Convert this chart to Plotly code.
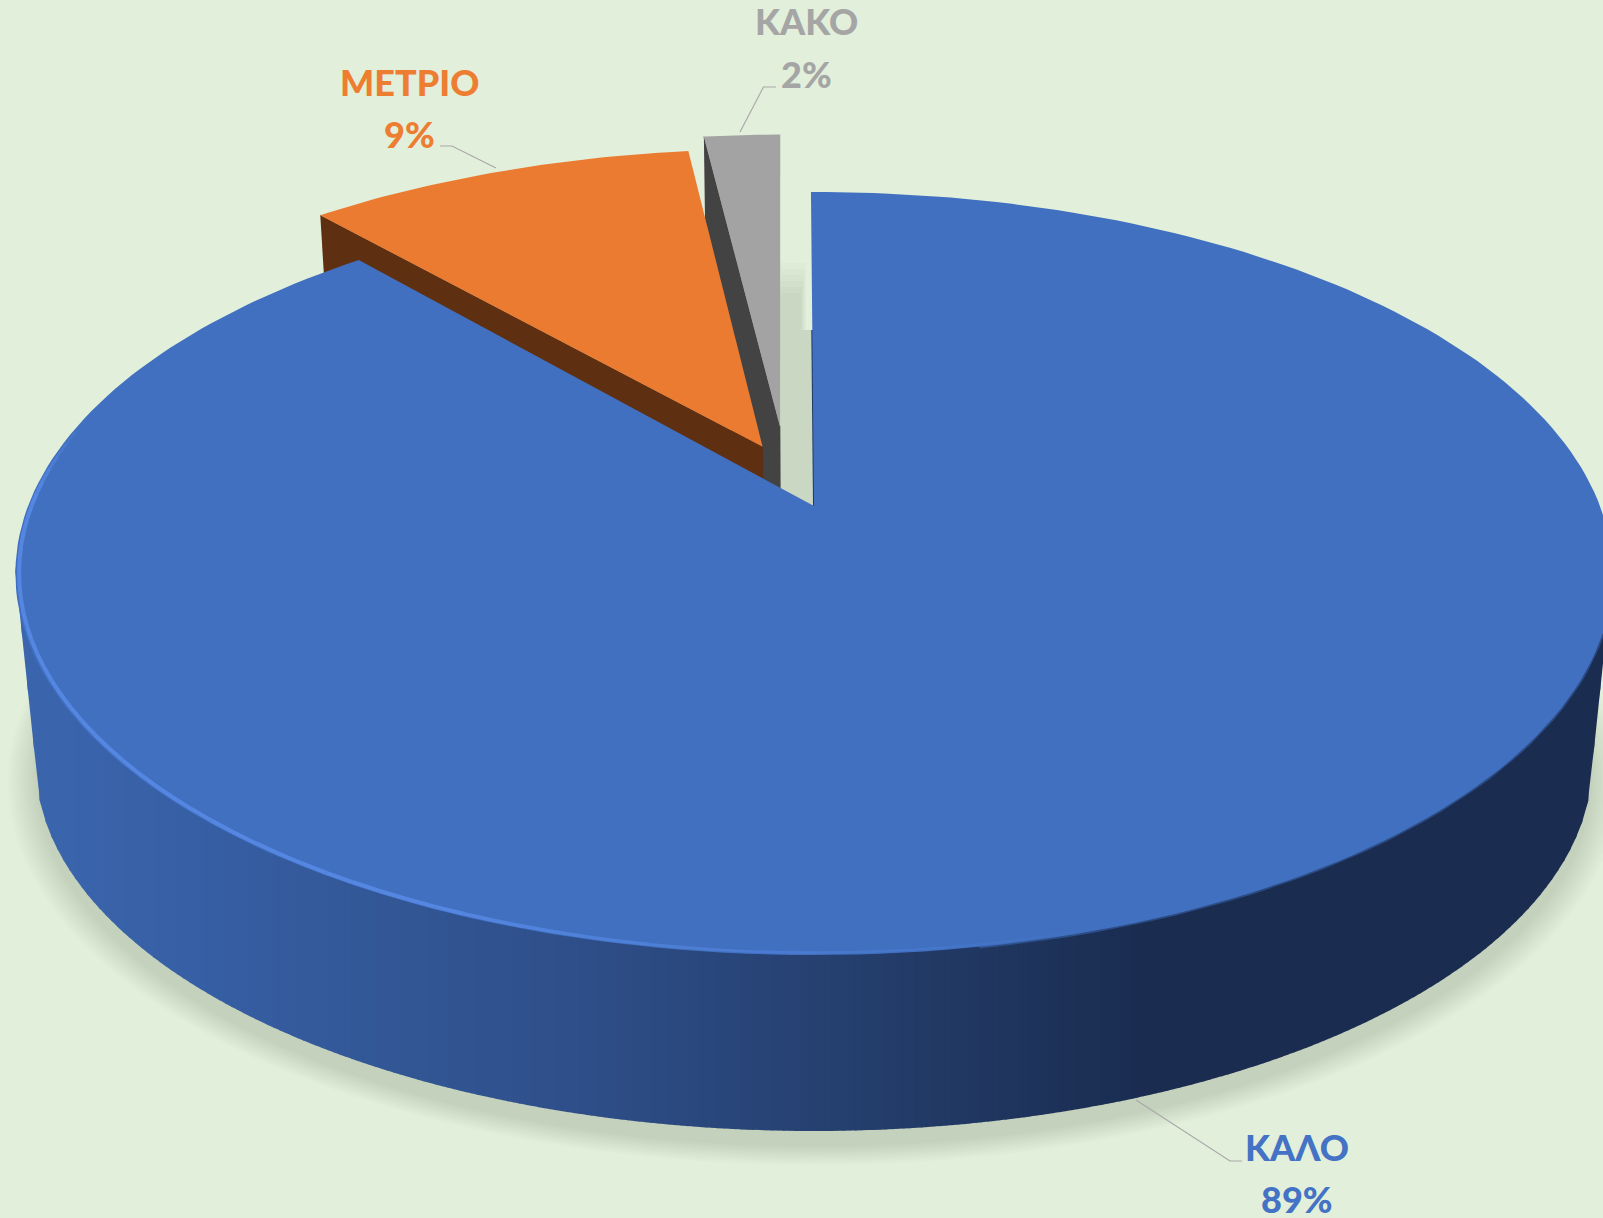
import numpy as np
import plotly.graph_objects as go

# ---- data ----
categories = ["ΚΑΛΟ", "ΜΕΤΡΙΟ", "ΚΑΚΟ"]
values = [88.6, 9.4, 2.0]
slice_colors = ["#4170C0", "#EB7B30", "#A3A3A3"]
side_colors = ["#1F3864", "#5E2F11", "#434343"]
label_colors = ["#4472C4", "#ED7D31", "#A5A5A5"]

# ---- pseudo-3D pie projection (pixels of the 1603x1218 canvas) ----
W, H = 1603, 1218
BG = "#E2EFDA"
PERSP = 0.177
TOP = dict(cx=814, cy=506, a=786, b=369.6)
BOT = dict(cx=814, cy=696, a=766.5, b=358)
explode = [(0.0, 0.0), (-0.0673, 0.165), (-0.0449, 0.2226)]
start_tilt = [-0.26, -0.45, 0.0]
end_tilt = [0.0, 0.0, -0.42]


def proj(u, v, d):
    w = 1 + PERSP * np.asarray(v)
    return d["cx"] + d["a"] * np.asarray(u) / w, d["cy"] - d["b"] * np.asarray(v) / w


def uv(theta_deg, r=1.0, off=(0.0, 0.0)):
    t = np.radians(theta_deg)
    return off[0] + r * np.sin(t), off[1] + r * np.cos(t)


def poly(x, y, color, line=None, lw=0):
    return go.Scatter(
        x=list(x), y=list(y), mode="lines", fill="toself", fillcolor=color,
        line=dict(color=line or "rgba(0,0,0,0)", width=lw),
        hoverinfo="skip", showlegend=False,
    )


def hex_rgb(h):
    return np.array([int(h[i:i + 2], 16) for i in (1, 3, 5)], float)


RIM_X = [30, 200, 400, 600, 800, 1000, 1150, 1603]
RIM_C = ["#3B66AE", "#375FA5", "#335795", "#2E4E88", "#274273", "#20365F", "#1A2C50", "#1A2C50"]
RIM_RGB = np.array([hex_rgb(c) for c in RIM_C])


def rim_color(x):
    c = [np.interp(x, RIM_X, RIM_RGB[:, k]) for k in range(3)]
    return "rgb(%d,%d,%d)" % tuple(c)


fig = go.Figure()

edges = np.concatenate([[0], np.cumsum(values)]) * 3.6
start = edges[:-1] + np.array(start_tilt)
end = edges[1:] + np.array(end_tilt)

# soft ground shadow
tt = np.linspace(0, 360, 181)
N_SH = 10
for i in range(N_SH):
    f = 1 + 0.034 * i / (N_SH - 1)
    u, v = uv(tt, f)
    x, y = proj(u, v, dict(BOT, cy=BOT["cy"] + 16))
    fig.add_trace(poly(x, y, "rgba(0,0,0,0.0105)"))

# clean the gap behind the slices, then its own soft shadow
fig.add_trace(poly([770, 815, 815, 770], [120, 120, 530, 530], BG))
for i in range(6):
    top_y = 263 + 6 * i
    fig.add_trace(poly([780, 806 - i, 806 - i, 818, 818, 780],
                       [top_y, top_y, 330, 330, 530, 530], "rgba(0,0,0,0.0175)"))


def exploded_slice(k):
    th = np.linspace(start[k], end[k], 40)
    off = explode[k]
    # side wall along the left radial edge
    ul, vl = uv(start[k], 1.0, off)
    ua, va = off
    x1, y1 = proj([ul, ua], [vl, va], TOP)
    x2, y2 = proj([ua, ul], [va, vl], BOT)
    fig.add_trace(poly(np.r_[x1, x2], np.r_[y1, y2], side_colors[k], side_colors[k], 0.5))
    # top face
    u, v = uv(th, 1.0, off)
    x, y = proj(np.r_[ua, u], np.r_[va, v], TOP)
    fig.add_trace(poly(x, y, slice_colors[k]))


exploded_slice(2)
exploded_slice(1)

# rim of the big slice: vertical gradient strips between the two silhouettes
th_all = np.linspace(0, 360, 721)
ua_, va_ = uv(th_all)
xT, yT = proj(ua_, va_, TOP)
xB, yB = proj(ua_, va_, BOT)
iTL, iTR = int(np.argmin(xT)), int(np.argmax(xT))
iBL, iBR = int(np.argmin(xB)), int(np.argmax(xB))
up_x, up_y = xT[iTR:iTL + 1][::-1], yT[iTR:iTL + 1][::-1]
lo_x = np.r_[xT[iTL], xB[iBR:iBL + 1][::-1], xT[iTR]]
lo_y = np.r_[yT[iTL], yB[iBR:iBL + 1][::-1], yT[iTR]]
STEP = 6
for x0 in np.arange(xT[iTL], W, STEP):
    xs = np.array([x0, x0 + STEP + 1])
    ya = np.interp(xs, up_x, up_y) - 6
    yb_ = np.interp(xs, lo_x, lo_y)
    fig.add_trace(poly([xs[0], xs[1], xs[1], xs[0]], [ya[0], ya[1], yb_[1], yb_[0]], rim_color(x0 + STEP / 2)))

# soft blur where the top face meets the dark rim on the right
su, sv = uv(np.linspace(100, 170, 40))
sx, sy = proj(su, sv, TOP)
fig.add_trace(go.Scatter(x=sx, y=sy, mode="lines", line=dict(color="rgba(65,112,192,0.45)", width=3.5),
                         hoverinfo="skip", showlegend=False))

# thin dark wall at the vertical edge of the big slice
eu, ev = uv(start[0], np.array([0.52, 0.0]))
xl, yl = proj(eu, ev, TOP)
fig.add_trace(go.Scatter(x=xl, y=yl, mode="lines", line=dict(color="#1F3864", width=2.0),
                         hoverinfo="skip", showlegend=False))

# top face of the big slice
th = np.linspace(start[0], end[0], 240)
ut, vt = uv(th)
ua, va = explode[0]
x, y = proj(np.r_[ua, ut], np.r_[va, vt], TOP)
fig.add_trace(poly(x, y, slice_colors[0]))

# bright bevel along the front-left edge
bev = np.linspace(284, 160, 63)
for i in range(len(bev) - 1):
    m = (bev[i] + bev[i + 1]) / 2
    fade = np.clip((m - 160) / 45, 0, 1) * np.clip((284 - m) / 12, 0, 1)
    ub, vb = uv(bev[i:i + 2], 0.9955)
    bx, by = proj(ub, vb, TOP)
    fig.add_trace(go.Scatter(x=bx, y=by, mode="lines",
                             line=dict(color="rgba(88,138,230,%.2f)" % (0.9 * fade), width=1.5 + 2.5 * fade),
                             hoverinfo="skip", showlegend=False))

# leader lines
leaders = [
    ([1136, 1230, 1242], [1100, 1161, 1161]),
    ([496, 452, 440], [168, 146, 146]),
    ([740, 763.5, 776], [132, 87, 87]),
]
for lx, ly in leaders:
    fig.add_trace(go.Scatter(x=lx, y=ly, mode="lines", line=dict(color="#A9A9A9", width=1.2),
                             hoverinfo="skip", showlegend=False))

# labels
label_pos = [(1297, 1147, 1199), (409, 82, 134), (806, 21, 74)]
for k, (lx, y1, y2) in enumerate(label_pos):
    for txt, ly in ((categories[k], y1), ("%d%%" % round(values[k]), y2)):
        fig.add_annotation(x=lx, y=ly, xref="x", yref="y", text=txt, showarrow=False,
                           xanchor="center", yanchor="middle",
                           font=dict(family="Lato, 'Open Sans', sans-serif", size=36, weight=900,
                                     color=label_colors[k]))

fig.update_layout(
    width=W, height=H, margin=dict(l=0, r=0, t=0, b=0),
    paper_bgcolor=BG, plot_bgcolor=BG, showlegend=False,
    xaxis=dict(range=[0, W], visible=False, fixedrange=True),
    yaxis=dict(range=[H, 0], visible=False, fixedrange=True),
)

fig.write_html("out.html", config={"displayModeBar": False},
               post_script="document.body.style.margin='0';document.body.style.background='%s';" % BG)
